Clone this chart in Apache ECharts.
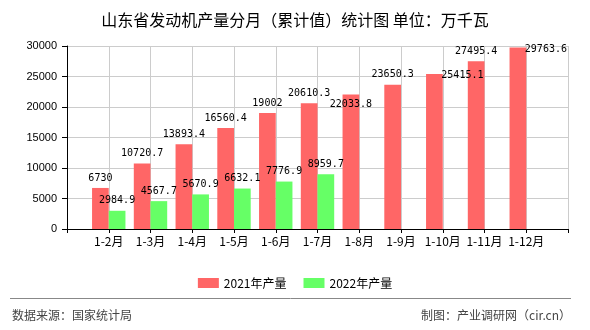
<!DOCTYPE html>
<html>
<head>
<meta charset="utf-8">
<script src="https://cdn.jsdelivr.net/npm/echarts@6/dist/echarts.min.js"></script>
<style>html,body{margin:0;padding:0;background:#fff;}#c{width:590px;height:330px;}</style>
</head>
<body>
<div id="c"></div>
<script>
var categories = ['1-2月','1-3月','1-4月','1-5月','1-6月','1-7月','1-8月','1-9月','1-10月','1-11月','1-12月'];
var values2021 = [6730, 10720.7, 13893.4, 16560.4, 19002, 20610.3, 22033.8, 23650.3, 25415.1, 27495.4, 29763.6];
var values2022 = [2984.9, 4567.7, 5670.9, 6632.1, 7776.9, 8959.7];
var yTicks = [0, 5000, 10000, 15000, 20000, 25000, 30000];

// label offsets reproducing the reference's label placement quirks
var offsets2021 = {6: [0, 20], 8: [28, 11], 10: [28, 12]};

function pad(arr) {
  var out = ['-'];
  for (var i = 0; i < categories.length; i++) out.push(i < arr.length ? arr[i] : '-');
  out.push('-');
  return out;
}
var xData = [''].concat(categories).concat(['']);
var d2021 = pad(values2021).map(function (v, i) {
  var k = i - 1;
  if (offsets2021[k]) return {value: v, label: {offset: offsets2021[k]}};
  return v;
});
var d2022 = pad(values2022);

var labelStyle = {show: true, position: 'top', distance: 5, color: '#000', fontSize: 10, fontFamily: 'DejaVu Sans Mono'};

var chart = echarts.init(document.getElementById('c'));
chart.setOption({
  animation: false,
  backgroundColor: '#fff',
  title: {
    text: '山东省发动机产量分月（累计值）统计图 单位：万千瓦',
    left: 'center', top: 7,
    textStyle: {fontSize: 16, fontWeight: 'normal', color: '#000', fontFamily: 'Noto Sans CJK SC'}
  },
  legend: {
    top: 272, left: 'center', itemWidth: 21, itemHeight: 10, itemGap: 17, icon: 'rect',
    textStyle: {fontSize: 12, color: '#000', fontFamily: 'Noto Sans CJK SC'},
    data: ['2021年产量', '2022年产量']
  },
  grid: {left: 67, right: 22, top: 46, bottom: 101, containLabel: false},
  xAxis: {
    type: 'category', data: xData, boundaryGap: false,
    axisLine: {lineStyle: {color: '#000'}},
    axisTick: {show: true, length: 4, lineStyle: {color: '#000'}},
    axisLabel: {interval: 0, color: '#000', fontSize: 12, margin: 6, fontFamily: 'Noto Sans CJK SC'},
    splitLine: {show: true, lineStyle: {color: '#ccc'}}
  },
  yAxis: {
    type: 'value', min: yTicks[0], max: yTicks[yTicks.length - 1], interval: yTicks[1] - yTicks[0],
    axisLine: {show: true, lineStyle: {color: '#000'}},
    axisTick: {show: true, length: 5, lineStyle: {color: '#000'}},
    axisLabel: {color: '#000', fontSize: 11, margin: 10, fontFamily: 'Liberation Sans',
      formatter: function (v) { return String(v); }},
    splitLine: {show: true, lineStyle: {color: '#ccc'}}
  },
  series: [
    {name: '2021年产量', type: 'bar', data: d2021, barWidth: '40%', barGap: '0%',
     itemStyle: {color: '#ff6666'}, label: labelStyle},
    {name: '2022年产量', type: 'bar', data: d2022, barWidth: '40%', barGap: '0%',
     itemStyle: {color: '#66ff66'}, label: labelStyle}
  ],
  graphic: [
    {type: 'line', shape: {x1: 10, y1: 298.5, x2: 571, y2: 298.5}, style: {stroke: '#888', lineWidth: 1}},
    {type: 'text', left: 12, top: 309, style: {text: '数据来源：国家统计局', fontSize: 12, fill: '#444', fontFamily: 'Noto Sans CJK SC'}},
    {type: 'text', right: 19, top: 309, style: {text: '制图：产业调研网（cir.cn）', fontSize: 12, fill: '#444', fontFamily: 'Noto Sans CJK SC'}}
  ]
});
</script>
</body>
</html>
